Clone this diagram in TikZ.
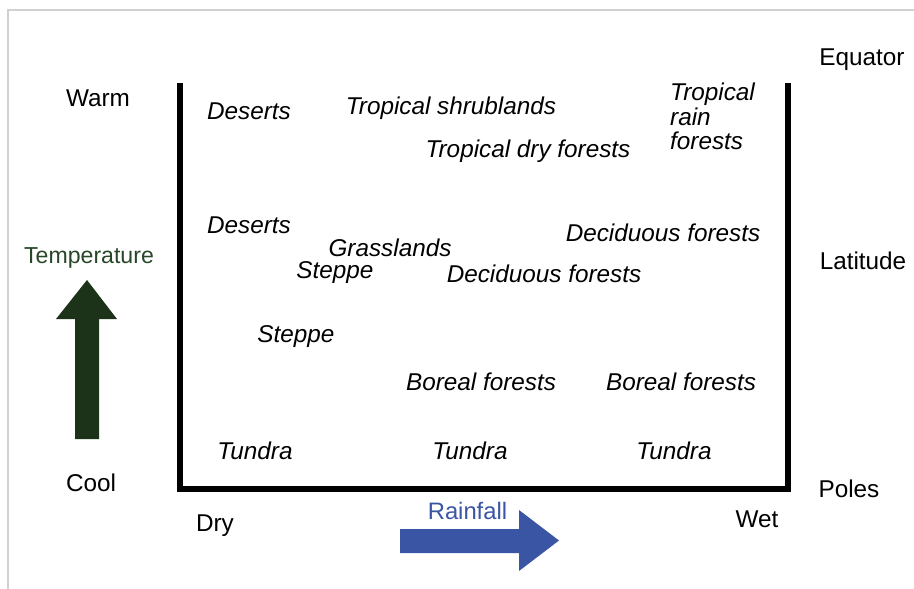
\documentclass[tikz,border=0pt]{standalone}
\usepackage{fontspec}
\setmainfont{Liberation Sans}
\begin{document}
\begin{tikzpicture}[x=1pt,y=-1pt,
  lbl/.style={inner sep=0pt,text depth=0pt,font=\fontsize{24.3}{27}\selectfont},
  biome/.style={lbl,font=\fontsize{24.3}{27}\selectfont\itshape},
  axis/.style={line width=6pt},
  frame/.style={draw=black!18,line width=1.2pt}]
\definecolor{tgreen}{RGB}{28,51,25}
\definecolor{tgtext}{RGB}{40,70,40}
\definecolor{rblue}{RGB}{58,85,164}
\useasboundingbox (0,0) rectangle (914,589);
\draw[frame] (914,10) -- (8,10) -- (8,589);
% axes
\coordinate (tl) at (180,83);
\coordinate (bl) at (180,489);
\coordinate (br) at (787.5,489);
\coordinate (tr) at (787.5,83);
\draw[axis] (tl) -- (bl) -- (br) -- (tr);
% arrows
\fill[tgreen] (75,439) -- (75,319) -- (56,319) -- (87,280) -- (117,319) -- (99,319) -- (99,439) -- cycle;
\fill[rblue] (400,529) -- (519,529) -- (519,510) -- (559,540.5) -- (519,571) -- (519,553) -- (400,553) -- cycle;
% axis labels
\node[lbl] (warm) at (98,98) {Warm};
\node[lbl] (cool) at (91,483) {Cool};
\node[lbl] (dry) at (215,523) {Dry};
\node[lbl] (wet) at (757,519) {Wet};
\node[lbl] (equator) at (862,57.5) {Equator};
\node[lbl] (latitude) at (863,261) {Latitude};
\node[lbl] (poles) at (849,489) {Poles};
\node[lbl,text=tgtext,font=\fontsize{23.1}{26}\selectfont] (temp) at (89,255.5) {Temperature};
\node[lbl,text=rblue,font=\fontsize{23.8}{27}\selectfont] (rain) at (467.5,510.5) {Rainfall};
% biomes
\node[biome] (des1) at (249,111) {Deserts};
\node[biome] (tshrub) at (451,105.5) {Tropical shrublands};
\node[biome] (tdry) at (528,148.5) {Tropical dry forests};
\node[biome,anchor=north west,align=left,font=\fontsize{24.3}{24.5}\selectfont\itshape] (train) at (670,83) {Tropical\\rain\\forests};
\node[biome] (des2) at (249,225) {Deserts};
\node[biome] (grass) at (390,247.5) {Grasslands};
\node[biome] (steppe1) at (335,270) {Steppe};
\node[biome] (dec1) at (663,233) {Deciduous forests};
\node[biome] (dec2) at (544,274) {Deciduous forests};
\node[biome] (steppe2) at (296,334) {Steppe};
\node[biome] (bor1) at (481,382) {Boreal forests};
\node[biome] (bor2) at (681,382) {Boreal forests};
\node[biome] (tun1) at (255,451) {Tundra};
\node[biome] (tun2) at (470,451) {Tundra};
\node[biome] (tun3) at (674,451) {Tundra};
\end{tikzpicture}
\end{document}
